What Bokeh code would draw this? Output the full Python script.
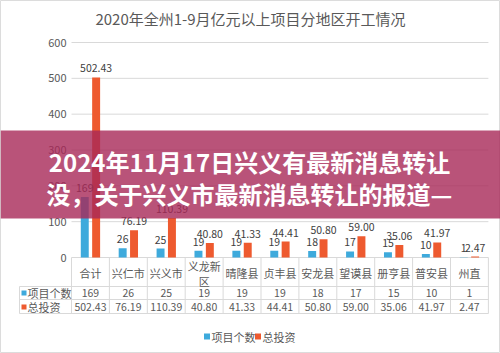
from bokeh.plotting import figure
from bokeh.models import Range1d, ColumnDataSource
from bokeh.transform import dodge
from bokeh.core.properties import value
from bokeh.embed import file_html
from bokeh.resources import INLINE

# ---------------- data ----------------
chart_title = "2020年全州1-9月亿元以上项目分地区开工情况"
categories = ["合计", "兴仁市", "兴义市", "义龙新区", "晴隆县", "贞丰县",
              "安龙县", "望谟县", "册亨县", "普安县", "州直"]
header_labels = ["合计", "兴仁市", "兴义市", "义龙新\n区", "晴隆县", "贞丰县",
                 "安龙县", "望谟县", "册亨县", "普安县", "州直"]
projects = [169, 26, 25, 19, 19, 19, 18, 17, 15, 10, 1]
investment = [502.43, 76.19, 110.39, 40.80, 41.33, 44.41, 50.80, 59.00, 35.06, 41.97, 2.47]
y_ticks = [0, 100, 200, 300, 400, 500, 600]
series_names = ["项目个数", "总投资"]
banner_lines = ["2024年11月17日兴义有最新消息转让", "没，关于兴义市最新消息转让的报道—"]

# ---------------- layout / style ----------------
W, H = 500, 353
COL0, COLW = 71.0, 37.9          # px left of first column, px per column
Y0, PPU = 257.0, 215.0 / 600.0   # px of value 0, px per value unit
BLUE, ORANGE = "#3eaadc", "#ee5a2f"
GRID = "#d9d9d9"
TXT = "#595959"
FONT = value("Noto Sans CJK SC")

n = len(categories)
p = figure(width=W, height=H, output_backend="svg", toolbar_location=None,
           x_range=Range1d(-0.5 - COL0 / COLW, -0.5 + (W - COL0) / COLW),
           y_range=Range1d(-(H - Y0) / PPU, Y0 / PPU),
           x_axis_location=None, y_axis_location=None, min_border=0)
p.extra_x_ranges = {"px": Range1d(0, W)}
p.extra_y_ranges = {"py": Range1d(H, 0)}
p.grid.visible = False
p.outline_line_color = "#dcdcdc"
p.background_fill_color = "white"
p.border_fill_color = "white"

src = ColumnDataSource(dict(
    idx=list(range(n)), projects=projects, investment=investment,
    plab=[str(v) for v in projects], ilab=["%.2f" % v for v in investment]))

# grid lines
p.segment(x0=[-0.5] * len(y_ticks), x1=[n - 0.5] * len(y_ticks), y0=y_ticks, y1=y_ticks,
          line_color=GRID, line_width=1)
# y tick labels
p.text(x=[66] * len(y_ticks), y=y_ticks, text=[str(t) for t in y_ticks], x_range_name="px",
       text_align="right", text_baseline="middle", text_font=FONT,
       text_font_size="11px", text_color=TXT)

# bars
p.vbar(x=dodge("idx", -0.15, range=p.x_range), top="projects", width=0.21, bottom=0,
       source=src, fill_color=BLUE, line_color=None)
p.vbar(x=dodge("idx", 0.15, range=p.x_range), top="investment", width=0.21, bottom=0,
       source=src, fill_color=ORANGE, line_color=None)
p.text(x=dodge("idx", -0.15, range=p.x_range), y="projects", text="plab", source=src,
       y_offset=-5, text_align="center", text_baseline="bottom", text_font=FONT,
       text_font_size="10.5px", text_color="#404040")
p.text(x=dodge("idx", 0.15, range=p.x_range), y="investment", text="ilab", source=src,
       y_offset=-5, text_align="center", text_baseline="bottom", text_font=FONT,
       text_font_size="10.5px", text_color="#404040")

# title
p.text(x=[W / 2], y=[18], text=[chart_title], x_range_name="px", y_range_name="py",
       text_align="center", text_baseline="middle", text_font=FONT,
       text_font_size="15px", text_color=TXT)

# ---------------- data table ----------------
bounds = [i - 0.5 for i in range(n + 1)]
p.segment(x0=bounds, x1=bounds, y0=[Y0] * len(bounds), y1=[313] * len(bounds),
          y_range_name="py", line_color=GRID, line_width=1)
p.segment(x0=[19] * 3, x1=[COL0 + n * COLW] * 3, y0=[286, 299, 313], y1=[286, 299, 313],
          x_range_name="px", y_range_name="py", line_color=GRID, line_width=1)
p.segment(x0=[19], x1=[19], y0=[286], y1=[313], x_range_name="px", y_range_name="py",
          line_color=GRID, line_width=1)

hx, hy, ht = [], [], []
for i, lab in enumerate(header_labels):
    parts = lab.split("\n")
    if len(parts) == 1:
        hx.append(i); hy.append(272); ht.append(parts[0])
    else:
        for k, part in enumerate(parts):
            hx.append(i); hy.append(265 + 15 * k); ht.append(part)
p.text(x=hx, y=hy, text=ht, y_range_name="py", text_align="center", text_baseline="middle",
       text_font=FONT, text_font_size="11px", text_color=TXT)

p.text(x="idx", y=292.5, text="plab", source=src, y_range_name="py",
       text_align="center", text_baseline="middle", text_font=FONT,
       text_font_size="10.5px", text_color=TXT)
p.text(x="idx", y=306.5, text="ilab", source=src, y_range_name="py",
       text_align="center", text_baseline="middle", text_font=FONT,
       text_font_size="10.5px", text_color=TXT)

p.scatter(x=[23.5, 23.5], y=[292.5, 306.5], marker="square", size=5,
          fill_color=[BLUE, ORANGE], line_color=None, x_range_name="px", y_range_name="py")
p.text(x=[27, 27], y=[292.5, 306.5], text=series_names, x_range_name="px", y_range_name="py",
       text_align="left", text_baseline="middle", text_font=FONT,
       text_font_size="11px", text_color=TXT)

# legend
p.scatter(x=[206.5, 257.5], y=[336, 336], marker="square", size=6,
          fill_color=[BLUE, ORANGE], line_color=None, x_range_name="px", y_range_name="py")
p.text(x=[211, 262], y=[336, 336], text=series_names, x_range_name="px", y_range_name="py",
       text_align="left", text_baseline="middle", text_font=FONT,
       text_font_size="11px", text_color=TXT)

# ---------------- banner overlay ----------------
p.quad(left=[0], right=[W], top=[130], bottom=[218], x_range_name="px", y_range_name="py",
       fill_color="#a82858", fill_alpha=0.8, line_color=None)
banner_src = ColumnDataSource(dict(x=[249, 249], y=[161, 193], t=banner_lines,
                                   fs=["24px", "24px"]))
p.text(x="x", y="y", text="t", text_font_size="fs", source=banner_src, x_range_name="px",
       y_range_name="py", text_align="center", text_baseline="middle", text_font=FONT,
       text_font_style="bold", text_color="white")

open("out.html", "w").write(file_html(p, INLINE))
